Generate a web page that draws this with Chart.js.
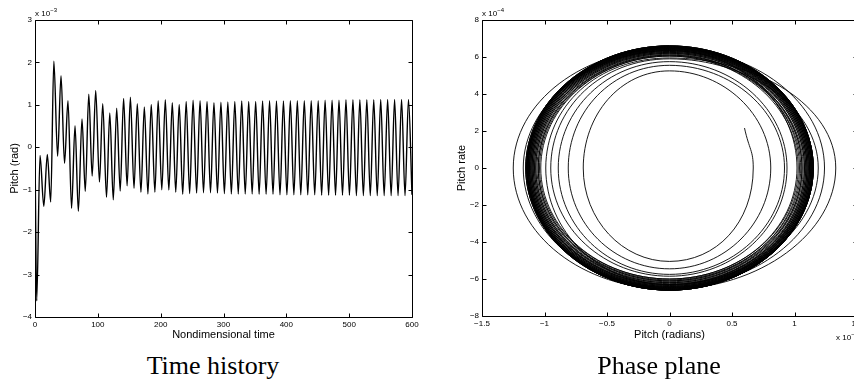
<!DOCTYPE html>
<html>
<head>
<meta charset="utf-8">
<script src="https://cdn.jsdelivr.net/npm/chart.js@4.4.1/dist/chart.umd.min.js"></script>
<style>
html, body { margin:0; padding:0; background:#fff; overflow:hidden; width:854px; height:380px; }
canvas { position:absolute; top:0; }
#timeChart { left:0; }
#phaseChart { left:440px; }
.mult { position:absolute; font:8px "Liberation Sans", Arial, sans-serif; line-height:8px; white-space:nowrap; color:#000; }
.mult sup { font-size:6px; vertical-align:4px; line-height:0; }
.caption { position:absolute; top:351px; font:26px "Liberation Serif", "Times New Roman", serif; line-height:30px; white-space:nowrap; transform:translateX(-50%); color:#000; }
</style>
</head>
<body>
<canvas id="timeChart" width="440" height="345"></canvas>
<canvas id="phaseChart" width="430" height="345"></canvas>
<div class="mult" style="left:35px;top:10px">x 10<sup>−3</sup></div>
<div class="mult" style="left:482px;top:10px">x 10<sup>−4</sup></div>
<div class="mult" style="left:836px;top:334px">x 10<sup>−3</sup></div>
<div class="caption" style="left:213px">Time history</div>
<div class="caption" style="left:659px">Phase plane</div>
<script>
// time history: peaks and troughs (pitch in 1e-3 rad)
const histTime = [0, 2.7, 8, 14, 19.6, 25, 30, 36, 41.4, 47,
  52.5, 58.2, 63.7, 69, 74.8, 80, 85.6, 91, 96.6, 102.6,
  107.8, 113.8, 119, 124.6, 130, 135.6, 141, 146.6, 151.8, 157.6,
  162.8, 168.6, 174, 179.7, 185, 190.8, 196, 201.8, 207.4, 213,
  218.5, 224, 229.5, 235.1, 240.6, 246.1, 251.6, 257.2, 262.7, 268.2,
  273.8, 279.3, 284.8, 290.4, 295.9, 301.4, 306.9, 312.5, 318, 323.5,
  329, 334.6, 340.1, 345.6, 351.2, 356.7, 362.2, 367.8, 373.3, 378.8,
  384.3, 389.9, 395.4, 400.9, 406.4, 412, 417.5, 423, 428.6, 434.1,
  439.6, 445.2, 450.7, 456.2, 461.7, 467.3, 472.8, 478.3, 483.8, 489.4,
  494.9, 500.4, 506, 511.5, 517, 522.6, 528.1, 533.6, 539.1, 544.7,
  550.2, 555.7, 561.2, 566.8, 572.3, 577.8, 583.4, 588.9, 594.4, 600];
const histPitch = [0, -3.62, -0.19, -1.39, -0.17, -1.29, 2.03, -0.21, 1.69, -0.38,
  1.10, -1.44, 0.51, -1.51, 0.67, -1.04, 1.25, -0.68, 1.34, -0.82,
  1.03, -1.18, 0.81, -1.24, 0.92, -1.03, 1.15, -0.91, 1.18, -0.97,
  1.03, -1.06, 0.95, -1.10, 1.01, -1.06, 1.10, -1.00, 1.12, -1.01,
  1.05, -1.06, 1.01, -1.11, 1.08, -1.09, 1.11, -1.08, 1.10, -1.07,
  1.08, -1.07, 1.05, -1.08, 1.06, -1.09, 1.07, -1.10, 1.08, -1.10,
  1.09, -1.10, 1.08, -1.10, 1.08, -1.11, 1.09, -1.11, 1.10, -1.11,
  1.09, -1.12, 1.09, -1.12, 1.10, -1.12, 1.10, -1.12, 1.10, -1.12,
  1.10, -1.12, 1.10, -1.13, 1.11, -1.13, 1.11, -1.13, 1.11, -1.13,
  1.12, -1.13, 1.12, -1.14, 1.12, -1.14, 1.12, -1.14, 1.12, -1.14,
  1.13, -1.14, 1.13, -1.14, 1.13, -1.14, 1.13, -1.14, 1.13, -1.12];

// phase plane (pitch 1e-3 rad, rate 1e-4): start point, then turning points of each cycle
const phaseStart = [0.60, 2.16];
const phaseRight = [0.67, 0.81, 0.92, 0.94, 1.19, 1.33, 1.24, 1.02,
  1.03, 1.05, 1.06, 1.04, 1.07, 1.08, 1.06, 1.09, 1.08, 1.10,
  1.09, 1.10, 1.11, 1.10, 1.11, 1.12, 1.11, 1.12, 1.12, 1.13,
  1.12, 1.13, 1.13, 1.14, 1.13, 1.14, 1.14, 1.14, 1.15, 1.14,
  1.15, 1.15, 1.14, 1.15, 1.15, 1.15];
const phaseBottom = [-5.05, -5.45, -5.75, -5.85, -6.3, -6.55, -6.45, -6.0,
  -6.0, -6.05, -6.1, -6.1, -6.15, -6.2, -6.2, -6.25, -6.3, -6.3,
  -6.3, -6.35, -6.35, -6.4, -6.4, -6.4, -6.45, -6.45, -6.45, -6.5,
  -6.5, -6.5, -6.5, -6.55, -6.55, -6.55, -6.55, -6.55, -6.6, -6.6,
  -6.6, -6.6, -6.6, -6.6, -6.6, -6.6];
const phaseLeft = [-0.69, -0.81, -0.89, -0.95, -0.99, -1.25, -1.17, -1.03,
  -1.04, -1.05, -1.06, -1.05, -1.07, -1.07, -1.08, -1.08, -1.09, -1.09,
  -1.10, -1.10, -1.10, -1.11, -1.11, -1.11, -1.12, -1.12, -1.12, -1.12,
  -1.13, -1.13, -1.13, -1.13, -1.13, -1.14, -1.14, -1.14, -1.14, -1.14,
  -1.14, -1.14, -1.15, -1.14, -1.15, -1.15];
const phaseTop = [5.25, 5.55, 5.75, 5.9, 5.95, 6.45, 6.35, 6.05,
  6.05, 6.1, 6.15, 6.1, 6.2, 6.2, 6.25, 6.25, 6.3, 6.3,
  6.35, 6.35, 6.35, 6.4, 6.4, 6.4, 6.45, 6.45, 6.45, 6.45,
  6.5, 6.5, 6.5, 6.5, 6.5, 6.55, 6.55, 6.55, 6.55, 6.55,
  6.55, 6.6, 6.6, 6.6, 6.6, 6.6];

// tick labels
const timeTicksX = [0, 100, 200, 300, 400, 500, 600];
const timeTicksY = [-4, -3, -2, -1, 0, 1, 2, 3];
const phaseTicksX = [-1.5, -1, -0.5, 0, 0.5, 1, 1.5];
const phaseTicksY = [-8, -6, -4, -2, 0, 2, 4, 6, 8];

const tickFont = { family: '"Liberation Sans", Arial, sans-serif', size: 8 };
const titleFont = { family: '"Liberation Sans", Arial, sans-serif', size: 11 };
const fmt = v => String(v).replace('-', '\u2212');

// matlab style box with inward ticks on all four sides
const boxTicks = {
  id: 'boxTicks',
  afterDraw(chart) {
    const { ctx, chartArea: a, scales: { x, y } } = chart;
    const len = 4;
    const l = Math.round(a.left) + 0.5, r = Math.round(a.right) + 0.5;
    const t = Math.round(a.top) + 0.5, b = Math.round(a.bottom) + 0.5;
    ctx.save();
    ctx.strokeStyle = '#000';
    ctx.lineWidth = 1;
    ctx.beginPath();
    ctx.rect(l, t, r - l, b - t);
    x.ticks.forEach(tk => {
      const px = Math.round(x.getPixelForValue(tk.value)) + 0.5;
      ctx.moveTo(px, b); ctx.lineTo(px, b - len);
      ctx.moveTo(px, t); ctx.lineTo(px, t + len);
    });
    y.ticks.forEach(tk => {
      const py = Math.round(y.getPixelForValue(tk.value)) + 0.5;
      ctx.moveTo(l, py); ctx.lineTo(l + len, py);
      ctx.moveTo(r, py); ctx.lineTo(r - len, py);
    });
    ctx.stroke();
    ctx.restore();
  }
};

// on the orbit, turning points (rate = 0 or pitch = 0) have axis-aligned tangents
const turningTangents = {
  id: 'turningTangents',
  beforeDatasetDraw(chart, args) {
    const meta = args.meta;
    const src = chart.data.datasets[args.index].data;
    meta.dataset.updateControlPoints(chart.chartArea, 'x');
    meta.data.forEach((p, i) => {
      if (src[i].y === 0) { p.cp1x = p.x; p.cp2x = p.x; }
      else if (src[i].x === 0) { p.cp1y = p.y; p.cp2y = p.y; }
    });
  }
};

function axis(ticks, title, size, vertical, titlePad) {
  return {
    type: 'linear',
    min: ticks[0],
    max: ticks[ticks.length - 1],
    afterBuildTicks: s => { s.ticks = ticks.map(v => ({ value: v })); },
    afterFit: s => { if (vertical) s.width = size; else s.height = size; },
    grid: { display: false, drawTicks: false },
    border: { display: false },
    ticks: { color: '#000', font: tickFont, padding: 3, maxRotation: 0, autoSkip: false, callback: fmt },
    title: { display: true, text: title, color: '#000', font: titleFont, padding: titlePad }
  };
}

function baseOptions(padRight, xAxis, yAxis) {
  return {
    responsive: false,
    devicePixelRatio: 1,
    animation: false,
    events: [],
    layout: { padding: { top: 20, right: padRight, left: 0, bottom: 0 } },
    plugins: { legend: { display: false }, tooltip: { enabled: false } },
    scales: { x: xAxis, y: yAxis }
  };
}

new Chart(document.getElementById('timeChart'), {
  type: 'scatter',
  data: {
    datasets: [{
      data: histTime.map((t, i) => ({ x: t, y: histPitch[i] })),
      showLine: true,
      borderColor: '#000',
      borderWidth: 1.4,
      pointRadius: 0,
      cubicInterpolationMode: 'monotone',
      fill: false
    }]
  },
  options: baseOptions(28,
    axis(timeTicksX, 'Nondimensional time', 28, false, { top: 0, bottom: 3 }),
    axis(timeTicksY, 'Pitch (rad)', 35, true, { top: 8, bottom: 0 })),
  plugins: [boxTicks]
});

const phasePoints = [{ x: phaseStart[0], y: phaseStart[1] }];
phaseRight.forEach((r, i) => {
  phasePoints.push({ x: r, y: 0 });
  phasePoints.push({ x: 0, y: phaseBottom[i] });
  phasePoints.push({ x: phaseLeft[i], y: 0 });
  phasePoints.push({ x: 0, y: phaseTop[i] });
});

new Chart(document.getElementById('phaseChart'), {
  type: 'scatter',
  data: {
    datasets: [{
      data: phasePoints,
      showLine: true,
      borderColor: '#000',
      borderWidth: 0.9,
      pointRadius: 0,
      tension: 0.55,
      fill: false
    }]
  },
  options: baseOptions(13,
    axis(phaseTicksX, 'Pitch (radians)', 29, false, { top: 0, bottom: 3 }),
    axis(phaseTicksY, 'Pitch rate', 42, true, { top: 15, bottom: 0 })),
  plugins: [boxTicks, turningTangents]
});
</script>
</body>
</html>
